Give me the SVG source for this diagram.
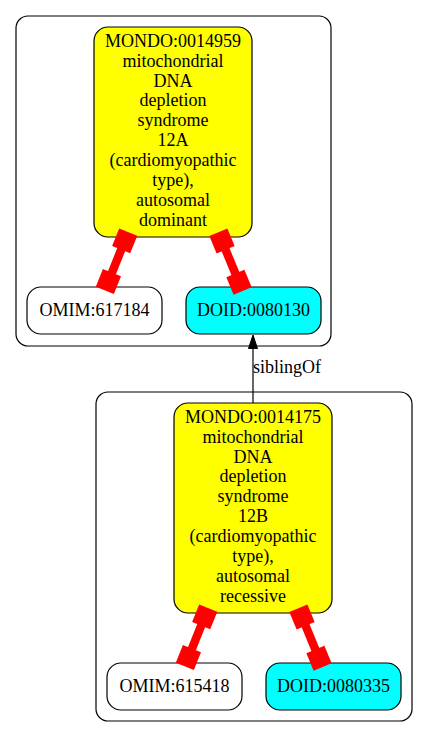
<svg xmlns="http://www.w3.org/2000/svg" width="428" height="737" viewBox="0 0 428 737" font-family="Liberation Serif, DejaVu Serif, serif">
<style>
.cl{fill:#fff;stroke:#000;stroke-width:1.2}
.nd{stroke:#000;stroke-width:1.2}
.y{fill:#ffff00}.w{fill:#fff}.c{fill:#00ffff}
text{font-family:'Liberation Serif','DejaVu Serif',serif;font-size:18px;fill:#000;text-anchor:middle}
.ln{stroke:#ff0000;stroke-width:8.5}
.bx{fill:#ff0000}
.st{text-anchor:start}
</style>
<defs>
<rect id="box" class="bx" x="-9.5" y="-9.75" width="19" height="19.5"/>
</defs>
<rect width="428" height="737" fill="#fff"/>
<g id="cluster1"><rect class="cl" x="16" y="16" width="315" height="330" rx="12"/></g>
<g id="cluster2"><rect class="cl" x="96" y="392" width="316" height="329" rx="12"/></g>
<g id="MONDO_0014959">
<rect class="nd y" x="94" y="27" width="158" height="210" rx="14"/>
<text x="173" y="46.7">MONDO:0014959</text>
<text x="173" y="66.6">mitochondrial</text>
<text x="173" y="86.5">DNA</text>
<text x="173" y="106.4">depletion</text>
<text x="173" y="126.3">syndrome</text>
<text x="173" y="146.2">12A</text>
<text x="173" y="166.1">(cardiomyopathic</text>
<text x="173" y="186">type),</text>
<text x="173" y="205.9">autosomal</text>
<text x="173" y="225.8">dominant</text>
</g>
<g id="OMIM_617184">
<rect class="nd w" x="27" y="287" width="135" height="47" rx="14"/>
<text x="94.5" y="316">OMIM:617184</text>
</g>
<g id="DOID_0080130">
<rect class="nd c" x="186" y="287" width="135" height="47" rx="14"/>
<text x="253.5" y="316">DOID:0080130</text>
</g>
<g id="MONDO_0014175">
<rect class="nd y" x="174" y="403" width="158" height="210" rx="14"/>
<text x="253" y="422.7">MONDO:0014175</text>
<text x="253" y="442.6">mitochondrial</text>
<text x="253" y="462.5">DNA</text>
<text x="253" y="482.4">depletion</text>
<text x="253" y="502.3">syndrome</text>
<text x="253" y="522.2">12B</text>
<text x="253" y="542.1">(cardiomyopathic</text>
<text x="253" y="562">type),</text>
<text x="253" y="581.9">autosomal</text>
<text x="253" y="601.8">recessive</text>
</g>
<g id="OMIM_615418">
<rect class="nd w" x="107" y="663" width="135" height="47" rx="14"/>
<text x="174.5" y="692">OMIM:615418</text>
</g>
<g id="DOID_0080335">
<rect class="nd c" x="266" y="663" width="135" height="47" rx="14"/>
<text x="333.5" y="692">DOID:0080335</text>
</g>
<g id="edges">
<line class="ln" x1="124.7" y1="240.9" x2="108.4" y2="281.5"/>
<use href="#box" transform="translate(124.7,240.9) rotate(111.9)"/>
<use href="#box" transform="translate(108.4,281.5) rotate(111.9)"/>
<line class="ln" x1="222" y1="241" x2="239" y2="282.3"/>
<use href="#box" transform="translate(222,241) rotate(67.6)"/>
<use href="#box" transform="translate(239,282.3) rotate(67.6)"/>
<line class="ln" x1="204.7" y1="616.9" x2="188.4" y2="657.5"/>
<use href="#box" transform="translate(204.7,616.9) rotate(111.9)"/>
<use href="#box" transform="translate(188.4,657.5) rotate(111.9)"/>
<line class="ln" x1="302" y1="617" x2="319" y2="658.3"/>
<use href="#box" transform="translate(302,617) rotate(67.6)"/>
<use href="#box" transform="translate(319,658.3) rotate(67.6)"/>
<line x1="253" y1="348" x2="253" y2="403" stroke="#000" stroke-width="1.2"/>
<polygon points="253,335 248.5,348.5 257.5,348.5" fill="#000" stroke="#000"/>
<text class="st" x="253" y="373.3">siblingOf</text>
</g>
</svg>
